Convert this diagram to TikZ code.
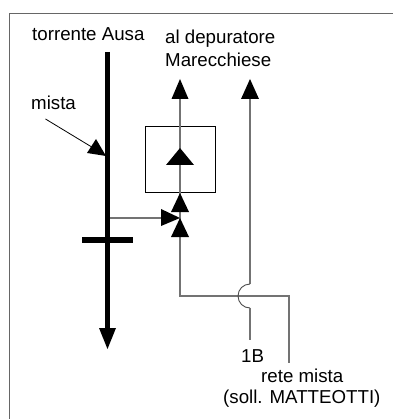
\documentclass[tikz,border=0pt]{standalone}
\usepackage{fontspec}
\setmainfont{Liberation Sans}
\begin{document}
\begin{tikzpicture}[x=1pt,y=-1pt,
  lab/.style={anchor=base west,inner sep=0pt,font=\fontsize{18.7}{22}\selectfont},
  thin line/.style={draw=black!55,line width=1.2pt},
  head/.style={fill=black,draw=none}]
\useasboundingbox (0,0) rectangle (393,419);
\fill[white] (0,0) rectangle (393,419);
\draw[black!60,line width=1pt] (9,419) -- (9,14) -- (393,14);
% coordinates
\coordinate (rt) at (107.5,52);
\coordinate (rb) at (107.5,330);
\coordinate (bl) at (82,240);
\coordinate (br) at (133,240);
\coordinate (bj) at (107.5,218);
\coordinate (mt) at (180,90);
\coordinate (mb) at (180,296);
\coordinate (rm) at (289,296);
\coordinate (re) at (289,363);
\coordinate (ot) at (250,90);
\coordinate (oa) at (250,284);
\coordinate (ob) at (250,308);
\coordinate (oe) at (250,340);
\coordinate (ms) at (45.5,119);
\coordinate (mh) at (95,149);
\coordinate (bh) at (165,218);
\node[draw=black,line width=0.8pt,minimum width=70pt,minimum height=66pt,inner sep=0pt] (box) at (180,159.5) {};
% lines
\draw[thin line] (mt) -- (mb) -- (rm) -- (re);
\draw[thin line] (ot) -- (oa);
\draw[black!70,line width=0.9pt,fill=white,fill opacity=0] (oa) arc[start angle=90,end angle=270,radius=12pt];
\draw[thin line] (ob) -- (oe);
\draw[thin line] (bj) -- (bh);
\draw[black,line width=0.8pt] (ms) -- (mh);
\draw[black,line width=5pt] (rt) -- (rb);
\draw[black,line width=6pt] (bl) -- (br);
% heads
\fill[head] (180,79) -- (188.5,99) -- (171.5,99) -- cycle;
\fill[head] (250,79) -- (259,99) -- (241,99) -- cycle;
\fill[head] (180,148) -- (194,165) -- (166,165) -- cycle;
\fill[head] (180,193) -- (189,212) -- (171,212) -- cycle;
\fill[head] (180,218) -- (189,237) -- (171,237) -- cycle;
\fill[head] (180,218) -- (161,209) -- (161,226) -- cycle;
\fill[head] (107.5,349) -- (99,328) -- (116,328) -- cycle;
\fill[head] (106,156) -- (87,153) -- (96,139) -- cycle;
% labels
\node[lab] (t1) at (32,41) {torrente Ausa};
\node[lab] (t2) at (165,44) {al depuratore};
\node[lab] (t3) at (165,67) {Marecchiese};
\node[lab] (t4) at (31,110) {mista};
\node[lab] (t5) at (241,362) {1B};
\node[lab] (t6) at (261,382) {rete mista};
\node[lab] (t7) at (223,403) {(soll. MATTEOTTI)};
\end{tikzpicture}
\end{document}
